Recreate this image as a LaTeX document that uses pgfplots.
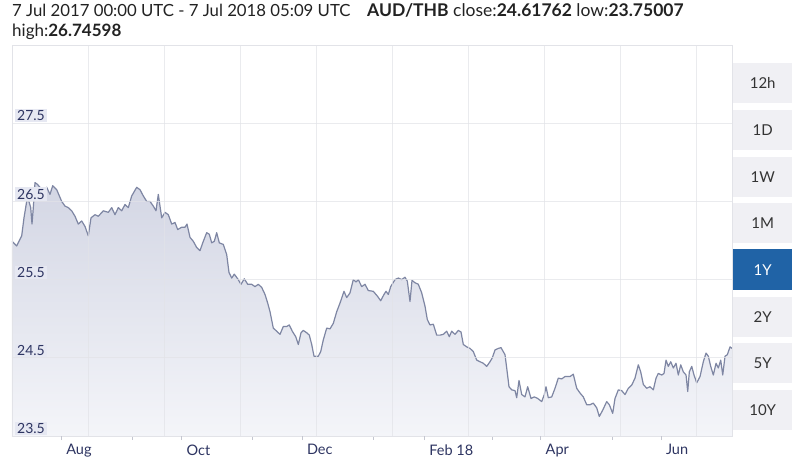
\documentclass[border=0pt]{standalone}
\usepackage{pgfplots}
\usepackage{pgfplotstable}
\pgfplotsset{compat=1.18}
\usepackage{fontspec}
\setmainfont{Lato}
\definecolor{txt}{HTML}{222222}
\definecolor{navy}{HTML}{2E3562}
\definecolor{lblbg}{HTML}{E6E8F2}
\definecolor{gridc}{HTML}{E2E3E8}
\definecolor{tickc}{HTML}{C4C6D0}
\definecolor{linec}{HTML}{7E86A3}
\definecolor{filltop}{HTML}{D3D6E4}
\definecolor{fillbot}{HTML}{F4F5F9}
\definecolor{btnbg}{HTML}{F0F0F4}
\definecolor{btnsel}{HTML}{2063A6}
\definecolor{btntxt}{HTML}{333333}

\pgfplotstableread{
day rate
0.00 25.99
2.38 25.93
4.92 26.06
6.08 26.29
7.45 26.50
8.26 26.53
9.48 26.42
10.14 26.21
10.80 26.42
11.66 26.74
12.83 26.72
14.19 26.68
15.87 26.62
17.59 26.68
19.26 26.59
20.63 26.70
22.66 26.65
25.19 26.50
26.87 26.44
28.54 26.42
30.26 26.38
31.94 26.31
33.61 26.21
35.33 26.25
37.01 26.18
38.68 26.06
40.05 26.29
42.08 26.33
43.75 26.31
46.28 26.38
48.82 26.36
50.54 26.42
52.21 26.33
53.89 26.42
55.61 26.38
57.28 26.46
58.96 26.42
60.68 26.57
63.22 26.68
64.89 26.65
66.56 26.57
68.28 26.50
69.96 26.50
71.63 26.44
73.00 26.38
74.17 26.59
75.89 26.29
77.56 26.36
79.24 26.33
80.96 26.21
82.63 26.23
84.00 26.14
86.03 26.17
87.70 26.17
88.71 26.21
90.24 26.04
91.91 25.99
93.63 25.91
95.30 25.87
96.98 25.99
98.70 26.10
100.02 26.08
101.24 25.97
102.55 25.99
103.77 26.10
105.09 25.97
107.12 25.95
108.84 25.82
110.01 25.59
111.38 25.52
112.69 25.57
114.42 25.51
116.09 25.44
117.76 25.51
119.49 25.44
121.51 25.44
123.19 25.41
124.86 25.44
126.58 25.40
128.26 25.31
129.62 25.20
130.79 25.09
132.46 24.88
134.19 24.84
135.86 24.80
137.53 24.90
139.26 24.90
140.57 24.92
142.09 24.84
143.82 24.77
145.14 24.67
146.51 24.82
147.67 24.85
149.40 24.82
150.72 24.79
151.93 24.67
153.10 24.52
155.28 24.52
156.50 24.58
157.82 24.73
159.54 24.88
161.21 24.87
162.88 24.94
164.61 25.09
166.28 25.20
168.31 25.35
169.67 25.27
171.35 25.33
173.02 25.50
174.39 25.47
175.55 25.50
177.28 25.41
178.95 25.44
180.62 25.36
183.16 25.35
185.19 25.29
186.91 25.23
188.58 25.31
189.60 25.35
190.77 25.31
191.98 25.41
194.16 25.50
195.84 25.52
197.56 25.50
199.23 25.53
200.40 25.48
201.76 25.22
202.78 25.49
204.30 25.46
205.97 25.44
207.70 25.33
209.37 25.16
210.53 24.99
211.90 24.92
213.58 24.93
215.30 24.79
216.97 24.79
218.64 24.80
220.37 24.84
221.69 24.77
222.90 24.84
224.58 24.80
226.25 24.85
227.62 24.83
228.79 24.67
230.51 24.64
232.18 24.62
233.86 24.58
235.58 24.47
237.25 24.45
238.93 24.43
240.65 24.39
242.32 24.45
243.49 24.50
244.85 24.60
246.53 24.62
247.89 24.63
249.92 24.54
250.78 24.37
251.95 24.13
253.32 24.09
254.99 24.08
255.85 23.99
257.02 24.21
258.39 24.03
260.06 24.00
261.43 24.13
263.10 23.98
264.78 24.00
266.50 23.98
268.53 23.94
269.85 24.03
270.71 24.13
271.88 23.99
273.60 24.00
275.27 24.11
276.94 24.24
278.67 24.23
280.34 24.26
282.87 24.26
284.55 24.29
286.27 24.11
287.94 24.05
289.62 24.00
291.34 23.90
293.01 23.90
294.69 23.92
296.41 23.86
297.73 23.75
299.45 23.83
301.48 23.94
302.80 23.90
304.52 23.79
305.69 23.98
307.36 24.09
309.08 24.08
310.76 24.03
312.43 24.11
314.15 24.15
315.83 24.24
317.50 24.41
318.72 24.32
320.04 24.16
321.76 24.11
323.43 24.13
325.11 24.09
326.48 24.24
327.64 24.30
329.37 24.28
330.53 24.30
331.55 24.47
332.71 24.39
333.93 24.45
335.25 24.37
336.62 24.43
337.78 24.28
339.00 24.41
340.32 24.32
341.69 24.28
342.55 24.07
343.36 24.32
344.58 24.39
345.74 24.28
347.11 24.18
348.79 24.26
350.46 24.45
351.83 24.56
353.00 24.52
354.21 24.39
355.53 24.28
356.90 24.43
358.06 24.37
359.28 24.47
360.30 24.28
361.46 24.52
362.63 24.54
364.00 24.64
365.00 24.62
}\ratedata

\begin{document}
\begin{tikzpicture}[x=1pt,y=1pt]
\path[use as bounding box, fill=white] (0,0) rectangle (800,461);
\begin{axis}[
  axis on top,
  at={(12pt,25pt)}, anchor=south west,
  width=720pt, height=391pt, scale only axis,
  xmin=0, xmax=365, ymin=23.5, ymax=28.5,
  axis line style={gridc, line width=0.9pt},
  xtick={38.53,77.06,115.6,154.1,192.7,231.2,269.7,308.2,346.8},
  xticklabels={},
  minor xtick={60.8,121.7,183,243.3,304.6},
  ytick={23.5,24.5,25.5,26.5,27.5},
  yticklabels={23.5,24.5,25.5,26.5,27.5},
  xmajorgrids, ymajorgrids,
  major grid style={gridc, line width=0.9pt, opacity=0.7},
  major tick length=0pt,
  minor tick length=3.5pt,
  tick align=outside,
  xtick pos=bottom, ytick pos=left,
  tick style={tickc, line width=0.8pt},
  yticklabel style={anchor=south west, xshift=3pt, yshift=0.5pt, fill=lblbg, text=navy,
    inner xsep=2pt, inner ysep=1.5pt, font=\fontsize{14}{14}\selectfont},
  extra x ticks={25,86,147,209,268,329},
  extra x tick labels={Aug,Oct,Dec,Feb 18,Apr,Jun},
  extra x tick style={xmajorgrids=false, major tick length=4pt,
    xticklabel style={anchor=north west, xshift=1.5pt, yshift=-1pt, text=navy,
      font=\fontsize{14.5}{14.5}\selectfont}},
]
\addplot[draw=none, top color=filltop, bottom color=fillbot] table[x=day,y=rate] {\ratedata} \closedcycle;
\addplot[linec, line width=1.2pt, line join=round] table[x=day,y=rate] {\ratedata};
\end{axis}

% header text
\node[anchor=base west, inner sep=0pt, text=txt, font=\fontsize{16.75}{16.75}\selectfont] at (12,444)
  {7 Jul 2017 00:00 UTC - 7 Jul 2018 05:09 UTC};
\node[anchor=base west, inner sep=0pt, text=txt, font=\fontsize{17.5}{17.5}\selectfont] at (367,444)
  {\textbf{AUD/THB} close:\textbf{24.61762} low:\textbf{23.75007}};
\node[anchor=base west, inner sep=0pt, text=txt, font=\fontsize{17}{17}\selectfont] at (12,424)
  {high:\textbf{26.74598}};

% range buttons
\foreach \lab/\top in {12h/63,1D/110,1W/157,1M/203,2Y/297,5Y/343,10Y/390}{
  \node[anchor=north west, fill=btnbg, minimum width=59pt, minimum height=40pt, inner sep=0pt,
    text=btntxt, font=\fontsize{15}{15}\selectfont] at (733,461-\top) {\lab};
}
\node[anchor=north west, fill=btnsel, minimum width=59pt, minimum height=41pt, inner sep=0pt,
  text=white, font=\fontsize{15}{15}\selectfont] at (733,461-249) {1Y};
\end{tikzpicture}
\end{document}
